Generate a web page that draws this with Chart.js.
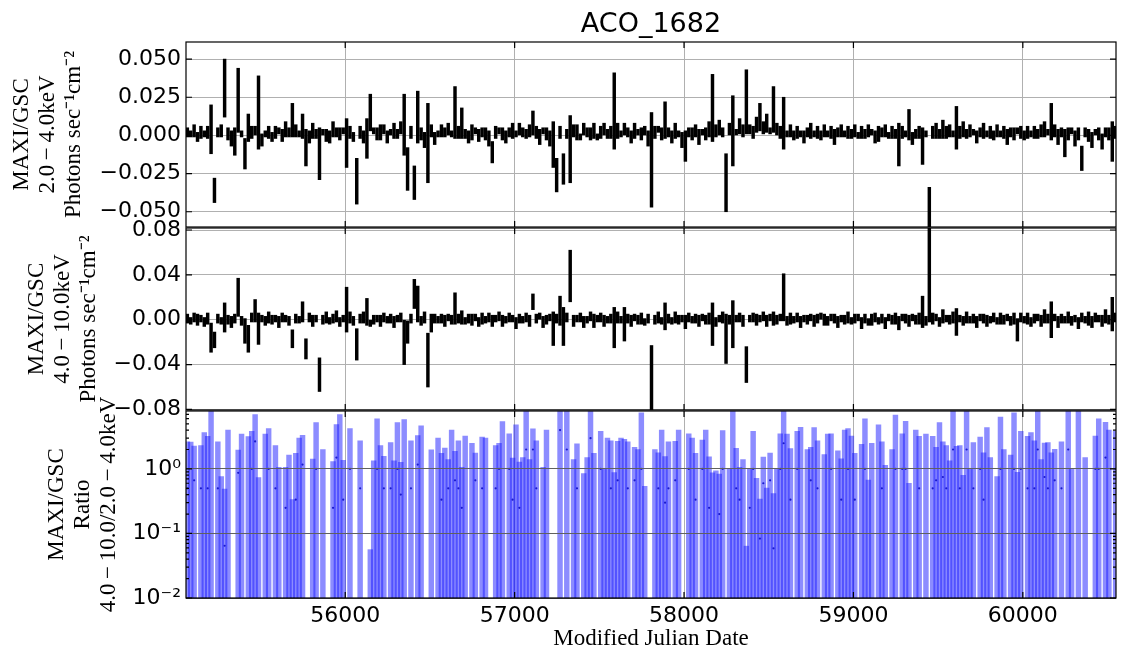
<!DOCTYPE html>
<html>
<head>
<meta charset="utf-8">
<script src="https://cdn.jsdelivr.net/npm/chart.js@4.4.1/dist/chart.umd.min.js"></script>
<style>
  body { margin: 0; background: #fff; }
  #wrap { position: relative; width: 1127px; height: 663px; }
  #wrap canvas { position: absolute; left: 0; top: 0; }
  #title { position: absolute; left: 186px; width: 930px; top: 8px; line-height: 30px;
           text-align: center; font-family: 'DejaVu Sans'; font-size: 27px; color: #000; }
</style>
</head>
<body>
<div id="wrap">
  <canvas id="c1" width="1127" height="663"></canvas>
  <canvas id="c2" width="1127" height="663"></canvas>
  <canvas id="c3" width="1127" height="663"></canvas>
  <div id="title">ACO_1682</div>
</div>
<script>
// time bins (MJD) : 20-day bins
const mjdStart = 55068;
const binDays = 20;
const fluxUnit = 1e-3; // arrays below are in 1e-3 photons/s/cm2

// MAXI/GSC 2.0-4.0 keV
const flux24 = [
  2,1,3,-1,2,1,2,4,-36,2,3,31,1,-2,-4,23,1,-12,5,2,3,15,-3,1,2,
  -1,2,3,0,4,2,10,3,1,6,-8,-1,3,1,-12,2,0,-1,4,2,1,3,-5,2,-1,
  -30,2,-1,-2,15,3,1,2,4,-1,2,3,1,5,7,-22,2,-31,12,1,-3,-5,3,-2,1,
  3,2,4,1,15,2,8,1,-1,2,3,0,2,1,-2,-11,2,3,1,-1,2,3,1,4,2,
  1,3,8,2,-1,3,1,-2,-6,-26,2,-22,1,-9,3,2,-1,4,2,1,3,-1,2,4,1,
  2,16,3,1,4,2,-1,3,2,1,3,-2,-16,2,4,1,10,2,-1,3,1,-3,-7,2,1,
  3,-1,2,1,4,18,3,5,2,-31,4,3,2,6,3,22,4,2,7,12,5,8,3,17,4,
  2,8,1,3,0,2,1,-1,2,3,1,2,0,3,1,2,-1,2,3,1,2,1,3,0,2,
  1,3,2,-1,1,2,3,0,2,1,-6,2,1,7,-2,1,2,-7,1,-70,2,3,1,4,2,
  3,1,5,2,4,1,3,2,-1,2,3,1,2,0,3,1,2,-1,2,1,3,2,0,2,1,
  2,1,3,4,2,9,3,-1,2,-5,1,3,-2,1,-15,2,0,-3,2,1,-4,2,1,-4,2
];
const err24 = [
  3,2,4,3,4,2,4,16,8,3,4,19,4,5,9,21,2,10,9,4,3,24,4,2,4,
  3,4,2,4,5,3,11,4,2,8,12,4,5,3,17,2,4,4,5,3,4,2,16,4,3,
  15,4,4,13,12,2,4,5,3,4,2,5,3,4,20,14,4,11,17,4,5,26,4,4,2,
  4,3,4,2,17,4,10,3,4,5,2,4,3,4,5,7,4,2,4,4,3,5,2,4,3,
  3,4,8,4,5,2,4,5,15,11,4,10,3,22,4,5,2,4,3,4,5,2,4,4,3,
  4,25,5,2,4,3,4,5,2,4,3,5,31,4,2,4,12,3,4,5,2,5,10,3,4,
  4,5,2,4,5,22,4,5,3,19,4,23,2,5,4,21,3,4,5,9,4,6,2,15,4,
  4,17,2,4,3,4,2,4,3,5,2,4,3,4,2,4,5,3,4,2,4,3,4,2,4,
  3,4,2,4,5,3,4,2,4,3,14,4,2,10,4,3,4,12,2,36,4,5,3,6,4,
  4,2,14,4,5,3,4,2,4,3,5,2,4,3,4,2,4,5,3,4,2,4,3,4,2,
  4,3,4,5,2,12,4,5,3,9,4,2,5,4,8,3,4,5,2,4,5,3,4,13,4
];

// MAXI/GSC 4.0-10.0 keV
const flux410 = [
  1,-1,2,0,1,-2,1,-16,-18,1,-1,2,0,-2,1,20,-1,-10,-17,2,8,-8,1,-1,2,
  0,1,-2,2,1,-1,-17,1,0,7,-26,2,-1,1,-49,0,2,-1,1,3,-2,1,9,2,-1,
  -22,1,2,7,-3,0,1,-1,2,0,1,-2,1,2,-20,-11,1,23,14,-1,2,-36,-3,1,0,
  1,-1,2,0,10,1,2,-1,1,0,2,-2,1,0,2,-1,1,3,-1,0,2,1,-3,1,0,
  2,-1,16,1,3,-2,0,2,-8,1,8,-6,2,39,-1,1,2,-2,0,3,-1,1,2,-1,0,
  1,-7,2,0,-4,1,-1,2,0,1,-2,1,-55,0,2,-1,3,1,-1,2,0,1,-2,2,0,
  1,-1,2,0,1,-4,-2,1,2,-17,0,-4,1,2,-1,-40,1,2,0,1,3,-1,2,1,0,
  2,20,-1,1,0,2,-2,1,0,2,-1,1,3,0,-1,2,1,-2,1,0,2,-1,1,2,-3,
  1,-2,0,2,-1,1,-3,2,0,1,-3,2,1,-1,2,0,1,7,-1,42,1,2,-2,3,1,
  0,2,-2,1,-1,2,0,1,-2,2,1,-1,0,2,-1,1,0,2,-1,1,-9,2,0,1,-2,
  1,2,-1,3,1,0,2,-2,1,0,2,-1,1,-3,2,0,1,-2,2,1,-1,3,0,5,2
];
const err410 = [
  4,3,4,5,3,4,5,13,7,4,3,13,4,5,4,17,4,11,12,4,10,14,3,4,5,
  4,3,5,4,3,4,8,4,3,9,9,4,5,3,15,4,5,3,4,5,4,3,20,5,4,
  14,4,5,12,3,4,3,5,4,3,4,5,3,4,20,10,4,13,16,4,5,24,8,4,3,
  4,5,3,4,14,4,6,3,4,5,3,4,5,3,4,5,3,4,5,3,4,3,5,4,3,
  4,5,7,4,3,5,4,3,15,4,13,17,4,23,5,3,4,5,3,4,6,3,4,5,3,
  4,18,5,3,15,4,5,3,4,5,3,4,32,4,5,3,12,4,3,5,4,3,6,4,3,
  4,5,3,4,5,19,4,3,5,22,4,21,3,4,5,16,3,4,5,3,4,5,3,6,4,
  3,21,4,5,3,4,5,3,4,3,5,4,3,5,4,3,4,5,3,4,5,3,4,3,5,
  4,3,5,4,3,4,5,3,4,5,6,3,4,5,3,4,5,14,4,44,5,3,4,6,3,
  4,5,12,3,4,5,3,4,5,3,4,5,3,4,3,5,4,3,4,5,10,4,3,5,4,
  4,3,5,6,4,16,3,5,4,3,5,4,3,5,4,3,6,5,4,3,5,6,4,15,4
];

// axes
const xMin = 55060, xMax = 60550;
const xTicks = [56000, 57000, 58000, 59000, 60000];
const y1Ticks = [0.05, 0.025, 0, -0.025, -0.05];
const y1Labels = ['0.050', '0.025', '0.000', '\u22120.025', '\u22120.050'];
const y2Ticks = [0.08, 0.04, 0, -0.04, -0.08];
const y2Labels = ['0.08', '0.04', '0.00', '\u22120.04', '\u22120.08'];
const y3Ticks = [1, 0.1, 0.01];
const y3Labels = ['10\u2070', '10\u207B\u00B9', '10\u207B\u00B2'];

const binMjd = i => mjdStart + i * binDays;

function errBars(vals, errs) {
  const out = [];
  vals.forEach((v, i) => {
    if (v === null) return;
    out.push({ x: binMjd(i), y: [(v - errs[i]) * fluxUnit, (v + errs[i]) * fluxUnit] });
  });
  return out;
}

// hardness ratio (4-10)/(2-4) with propagated errors
const ratioBars = [], ratioPts = [];
flux24.forEach((a, i) => {
  const b = flux410[i], ea = err24[i], eb = err410[i];
  if (a === null || b === null || a <= 0) return;
  const r = b / a;
  const e = Math.sqrt((eb / a) ** 2 + (b * ea / (a * a)) ** 2);
  const hi = r + e;
  if (hi <= 0) return;
  const lo = Math.max(r - e, 0.003);
  ratioBars.push({ x: binMjd(i), y: [lo, hi] });
  if (r > 0) ratioPts.push({ x: binMjd(i), y: r });
});

const frame = {
  id: 'frame',
  afterDraw(chart) {
    const { ctx, chartArea: a, scales } = chart;
    ctx.save();
    ctx.strokeStyle = '#000';
    ctx.lineWidth = 1.2;
    ctx.strokeRect(a.left, a.top, a.right - a.left, a.bottom - a.top);
    ctx.beginPath();
    scales.x.ticks.forEach(t => {
      const p = scales.x.getPixelForValue(t.value);
      ctx.moveTo(p, a.bottom); ctx.lineTo(p, a.bottom - 6);
      ctx.moveTo(p, a.top); ctx.lineTo(p, a.top + 6);
    });
    scales.y.ticks.forEach(t => {
      const p = scales.y.getPixelForValue(t.value);
      ctx.moveTo(a.left, p); ctx.lineTo(a.left + 6, p);
      ctx.moveTo(a.right, p); ctx.lineTo(a.right - 6, p);
    });
    if (scales.y.type === 'logarithmic') {
      for (let d = 0.01; d < 10; d *= 10) {
        for (let m = 2; m < 10; m++) {
          const v = d * m;
          if (v > scales.y.max) break;
          const p = scales.y.getPixelForValue(v);
          ctx.moveTo(a.left, p); ctx.lineTo(a.left + 3, p);
          ctx.moveTo(a.right, p); ctx.lineTo(a.right - 3, p);
        }
      }
    }
    ctx.stroke();
    ctx.restore();
  }
};

function makeChart(id, panel) {
  const xAxis = {
    type: 'linear', min: xMin, max: xMax, offset: false,
    grid: { color: '#b0b0b0', lineWidth: 1, drawTicks: false, offset: false, z: 0 },
    border: { display: false },
    afterBuildTicks: s => { s.ticks = xTicks.map(v => ({ value: v })); },
    ticks: {
      display: panel.showX, autoSkip: false, maxRotation: 0, padding: 5, color: '#000',
      font: { family: 'DejaVu Sans', size: 22 },
      callback: v => String(v)
    },
    title: {
      display: panel.showX, text: 'Modified Julian Date', color: '#000',
      font: { family: 'Liberation Serif', size: 23, lineHeight: 1.1 },
      padding: { top: 0, bottom: 11 }
    },
    afterFit: s => { s.height = panel.showX ? 663 - panel.bottom : 0; }
  };
  const yAxis = {
    type: panel.yType, min: panel.yMin, max: panel.yMax,
    grid: { color: panel.yGrid, lineWidth: 1, drawTicks: false, z: panel.gridZ },
    border: { display: false },
    afterBuildTicks: s => { s.ticks = panel.ticks.map(v => ({ value: v })); },
    ticks: {
      autoSkip: false, padding: 5, color: '#000',
      font: { family: 'DejaVu Sans', size: 22 },
      callback: v => {
        const k = panel.ticks.findIndex(t => Math.abs(t - v) < 1e-9);
        return k < 0 ? '' : panel.labels[k];
      }
    },
    title: {
      display: true, text: panel.title, color: '#000',
      font: { family: 'Liberation Serif', size: 23, lineHeight: 1.13 },
      padding: { top: panel.titlePad, bottom: 0 }
    },
    afterFit: s => { s.width = 186; }
  };
  return new Chart(document.getElementById(id), {
    type: 'bar',
    data: { datasets: panel.datasets },
    options: {
      responsive: false, animation: false, devicePixelRatio: 1,
      layout: { padding: { top: panel.top, bottom: panel.showX ? 0 : 663 - panel.bottom, left: 0, right: 11 } },
      plugins: { legend: { display: false }, tooltip: { enabled: false } },
      scales: { x: xAxis, y: yAxis }
    },
    plugins: [frame]
  });
}

makeChart('c1', {
  top: 42, bottom: 227, showX: false, yType: 'linear', yMin: -0.0600, yMax: 0.0612,
  ticks: y1Ticks, labels: y1Labels, yGrid: '#b0b0b0', gridZ: 0, titlePad: 9,
  title: ['MAXI/GSC', '2.0\u2009\u2212\u20094.0keV', 'Photons sec\u207B\u00B9cm\u207B\u00B2'],
  datasets: [{ data: errBars(flux24, err24), backgroundColor: '#000', barThickness: 2.8, borderWidth: 0 }]
});

makeChart('c2', {
  top: 228, bottom: 410, showX: false, yType: 'linear', yMin: -0.0805, yMax: 0.0818,
  ticks: y2Ticks, labels: y2Labels, yGrid: '#b0b0b0', gridZ: 0, titlePad: 24,
  title: ['MAXI/GSC', '4.0\u2009\u2212\u200910.0keV', 'Photons sec\u207B\u00B9cm\u207B\u00B2'],
  datasets: [{ data: errBars(flux410, err410), backgroundColor: '#000', barThickness: 2.8, borderWidth: 0 }]
});

makeChart('c3', {
  top: 411, bottom: 598, showX: true, yType: 'logarithmic', yMin: 0.01, yMax: 7.9,
  ticks: y3Ticks, labels: y3Labels, yGrid: '#606060', gridZ: 1, titlePad: 44,
  title: ['MAXI/GSC', 'Ratio', '4.0\u2009\u2212\u200910.0/2.0\u2009\u2212\u20094.0keV'],
  datasets: [
    { type: 'scatter', data: ratioPts, pointRadius: 1.1, pointBackgroundColor: '#1a1acc', pointBorderWidth: 0 },
    { data: ratioBars, backgroundColor: 'rgba(25,25,255,0.5)', barThickness: 4.8, borderWidth: 0 }
  ]
});
</script>
</body>
</html>
